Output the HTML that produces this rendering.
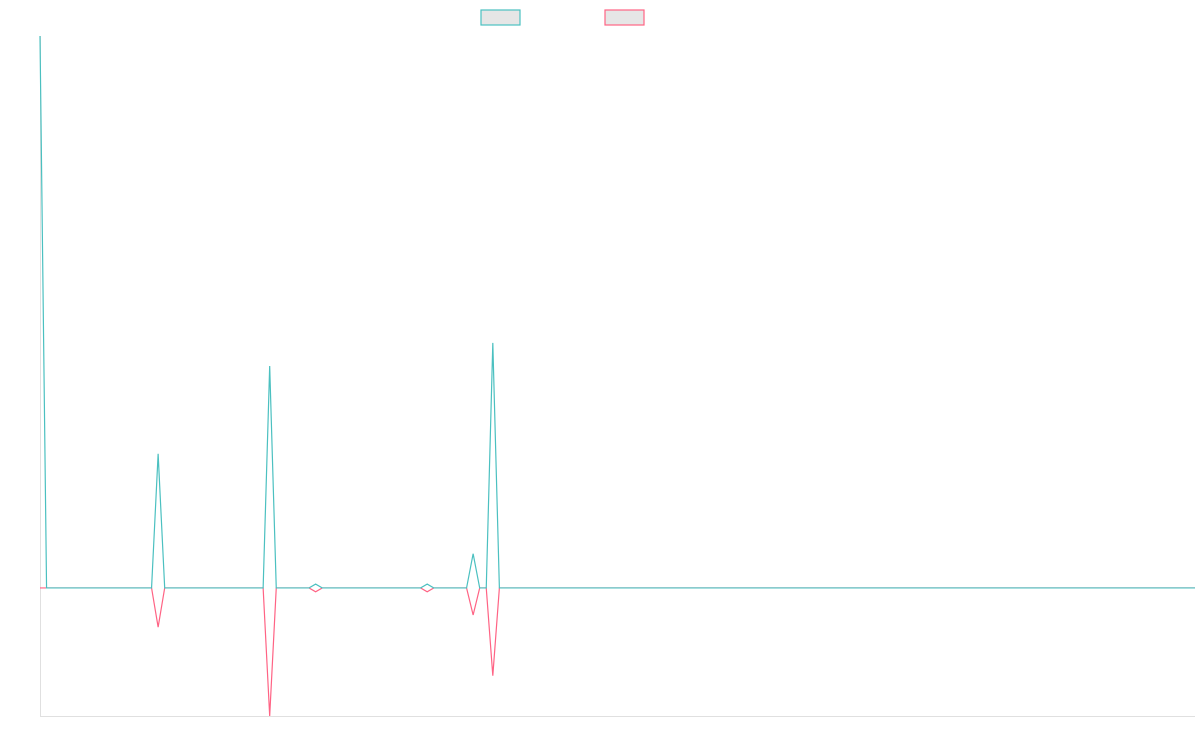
<!DOCTYPE html>
<html><head><meta charset="utf-8"><style>
html,body{margin:0;padding:0;background:#fff;}
svg{display:block;font-family:"Liberation Sans",sans-serif;}
</style></head><body>
<svg id="chart" width="1200" height="750" viewBox="0 0 1200 750">
<g>
<rect x="481" y="10" width="39" height="15" fill="#e6e6e6" stroke="#4bc0c0" stroke-width="1.2"/>
<rect x="605" y="10" width="39" height="15" fill="#e6e6e6" stroke="#ff6384" stroke-width="1.2"/>
</g>
<line x1="40.5" y1="36" x2="40.5" y2="716.5" stroke="#e0e0e0" stroke-width="1"/>
<line x1="40" y1="716.5" x2="1195" y2="716.5" stroke="#e0e0e0" stroke-width="1"/>
<g id="series"></g>
</svg>
<script>
const pointCount = 177;
const seriesASpikes = [[0,100],[18,24.3],[35,40.2],[42,0.7],[59,0.7],[66,6.2],[69,44.4]];
const seriesBSpikes = [[18,-7.1],[35,-23.2],[42,-0.7],[59,-0.7],[66,-4.9],[69,-15.9]];
const yMin = -23.2, yMax = 100;

function build(spikes){const a=new Array(pointCount).fill(0);spikes.forEach(([i,v])=>a[i]=v);return a;}
const seriesA = build(seriesASpikes);
const seriesB = build(seriesBSpikes);

const x0=40,x1=1195,yTop=36,yBot=716;
const xs=i=>x0+i*(x1-x0)/(pointCount-1);
const ys=v=>yBot-(v-yMin)/(yMax-yMin)*(yBot-yTop);
const g=document.getElementById('series');
function draw(data,color,name){
  const p=document.createElementNS('http://www.w3.org/2000/svg','polyline');
  p.setAttribute('points',data.map((v,i)=>xs(i).toFixed(2)+','+ys(v).toFixed(2)).join(' '));
  p.setAttribute('fill','none');p.setAttribute('stroke',color);p.setAttribute('stroke-width','1.2');
  
  
  g.appendChild(p);
}
draw(seriesB,'#ff6384','series-b-line');
draw(seriesA,'#4bc0c0','series-a-line');
</script>
</body></html>
